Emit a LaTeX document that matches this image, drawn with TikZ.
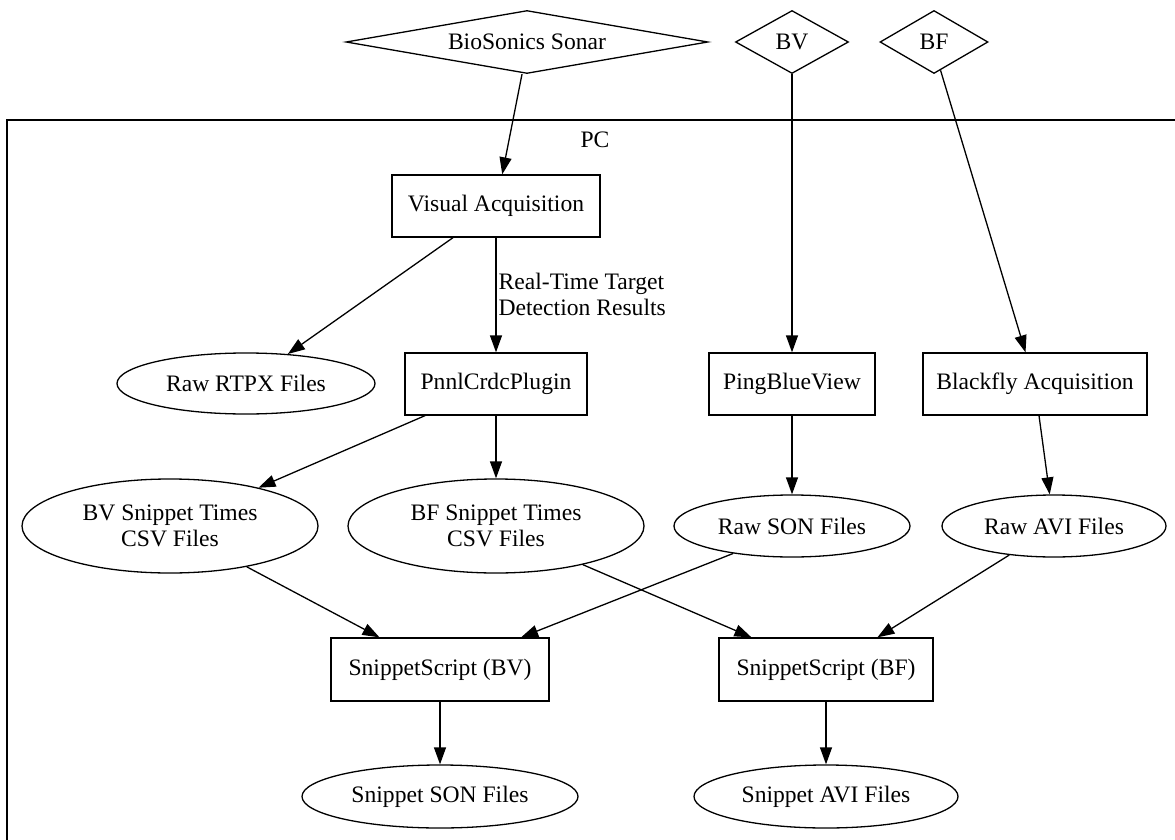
\documentclass[tikz,border=0pt]{standalone}
\usepackage{fontspec}
\setmainfont{Liberation Serif}
\usetikzlibrary{shapes.geometric,arrows.meta}
\begin{document}
\begin{tikzpicture}[x=1pt,y=-1pt,
  every node/.style={font=\fontsize{23.6}{26}\selectfont, inner sep=0pt, line width=1.3pt},
  boxnode/.style={draw, rectangle, minimum height=62pt},
  ellnode/.style={draw, ellipse, align=center},
  dianode/.style={draw, diamond},
  arr/.style={line width=1.3pt, -{Triangle[length=17pt,width=12pt]}},
  cluster/.style={line width=1.6pt}]
\useasboundingbox (0,0) rectangle (1175,840);
% cluster PC
\draw[cluster] (1176,120) -- (7,120) -- (7,841);
\node (pc) at (595,140) {PC};
% top diamonds
\node[dianode, aspect=5.75, minimum width=362pt, minimum height=63pt] (sonar) at (527,42) {BioSonics Sonar};
\node[dianode, aspect=1.8, minimum width=113pt, minimum height=63pt] (bvd) at (792,42) {BV};
\node[dianode, aspect=1.7, minimum width=108pt, minimum height=63pt] (bfd) at (934,42) {BF};
% layer 2
\node[boxnode, minimum width=208pt] (va) at (496,206) {Visual Acquisition};
% layer 3
\node[ellnode, minimum width=258pt, minimum height=61pt] (rtpx) at (246,383.5) {Raw RTPX Files};
\node[boxnode, minimum width=182pt] (pnnl) at (496,384) {PnnlCrdcPlugin};
\node[boxnode, minimum width=166pt] (pbv) at (792,384) {PingBlueView};
\node[boxnode, minimum width=224pt] (blackfly) at (1035,384) {Blackfly Acquisition};
% layer 4
\node[ellnode, minimum width=296pt, minimum height=94pt] (bvs) at (170,526) {BV Snippet Times\\CSV Files};
\node[ellnode, minimum width=296pt, minimum height=94pt] (bfs) at (496,526) {BF Snippet Times\\CSV Files};
\node[ellnode, minimum width=236pt, minimum height=62pt] (rson) at (792,526) {Raw SON Files};
\node[ellnode, minimum width=224pt, minimum height=62pt] (ravi) at (1054,526) {Raw AVI Files};
% layer 5
\node[boxnode, minimum width=218pt, minimum height=63pt] (ssbv) at (440,669.5) {SnippetScript (BV)};
\node[boxnode, minimum width=214pt, minimum height=63pt] (ssbf) at (826,669.5) {SnippetScript (BF)};
% layer 6
\node[ellnode, minimum width=276pt, minimum height=63pt] (sson) at (440,796.5) {Snippet SON Files};
\node[ellnode, minimum width=264pt, minimum height=63pt] (savi) at (826,796.5) {Snippet AVI Files};
% edge label
\node[anchor=west, align=left] (lbl) at (498,294.5) {Real-Time Target\\Detection Results};
% edges
\draw[arr] ([xshift=-5pt]sonar.south) -- (va);
\draw[arr] (bvd) -- (pbv);
\draw[arr] (bfd.-77) -- (blackfly);
\draw[arr] ([xshift=-43pt]va.south) -- (rtpx);
\draw[arr] (va) -- (pnnl);
\draw[arr] ([xshift=-71pt]pnnl.south) -- (bvs);
\draw[arr] (pnnl) -- (bfs);
\draw[arr] (pbv) -- (rson);
\draw[arr] ([xshift=4pt]blackfly.south) -- (ravi);
\draw[arr] (bvs.-28) -- (ssbv);
\draw[arr] (rson.-155) -- (ssbv);
\draw[arr] (bfs.-24) -- (ssbf);
\draw[arr] (ravi.-147) -- (ssbf);
\draw[arr] (ssbv) -- (sson);
\draw[arr] (ssbf) -- (savi);
\end{tikzpicture}
\end{document}
